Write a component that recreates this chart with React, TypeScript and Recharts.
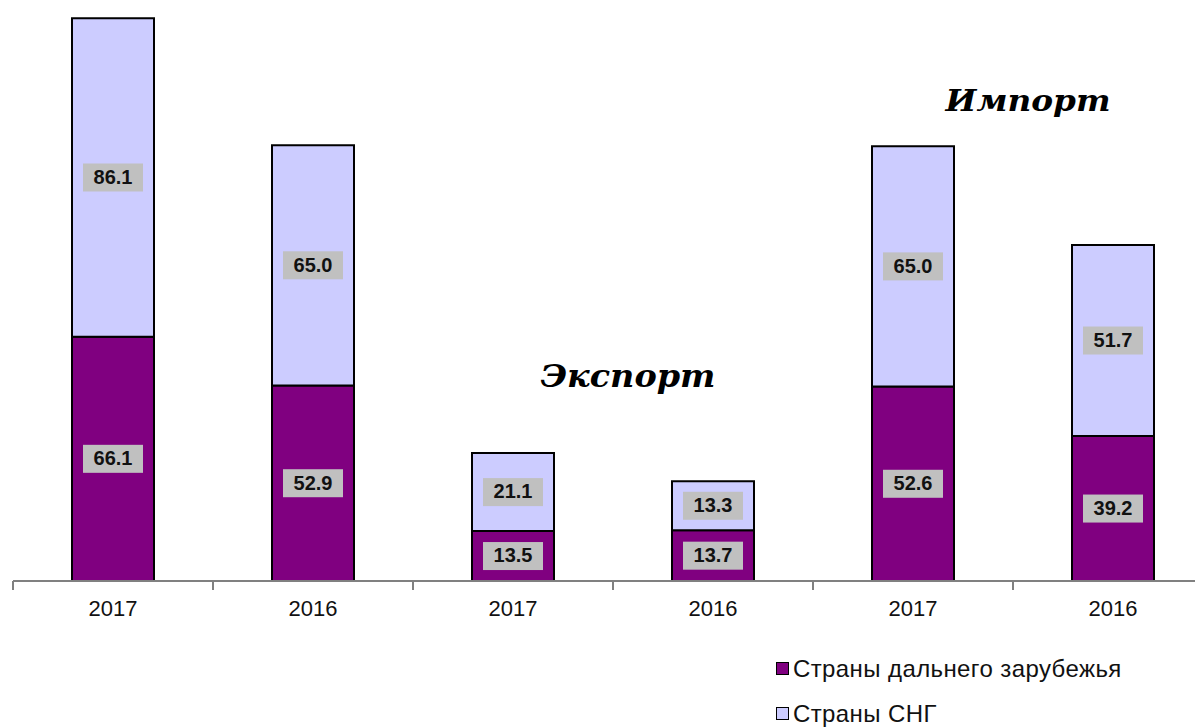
import { BarChart, Bar, XAxis, YAxis, LabelList, Legend, Customized } from 'recharts';

const years = ['2017', '2016', '2017', '2016', '2017', '2016'];
const farAbroad = [66.1, 52.9, 13.5, 13.7, 52.6, 39.2];
const cis = [86.1, 65.0, 21.1, 13.3, 65.0, 51.7];
const seriesNames = ['Страны дальнего зарубежья', 'Страны СНГ'];
const groupTitles = ['Экспорт', 'Импорт'];

const data = years.map((year, i) => ({
  id: i,
  year,
  far: farAbroad[i],
  cis: cis[i],
}));

const FONT = '"Liberation Sans", Arial, sans-serif';

const ValueBox = (props: any) => {
  const { x, y, width, height, value } = props;
  const cx = x + width / 2;
  const cy = y + height / 2;
  return (
    <g>
      <rect x={cx - 30} y={cy - 14} width={60} height={28} fill="#C0C0C0" />
      <text
        x={cx}
        y={cy + 1}
        textAnchor="middle"
        dominantBaseline="middle"
        fontFamily={FONT}
        fontWeight="bold"
        fontSize={20}
        fill="#111"
      >
        {Number(value).toFixed(1)}
      </text>
    </g>
  );
};

const YearTick = (props: any) => {
  const { x, y, payload } = props;
  return (
    <g>
      <line x1={x - 100} x2={x - 100} y1={y} y2={y + 9} stroke="#808080" strokeWidth={2} />
      <text x={x} y={y + 35} textAnchor="middle" fontFamily={FONT} fontSize={22} fill="#111">
        {years[payload.value]}
      </text>
    </g>
  );
};

const Titles = () => (
  <g>
    <text
      x={620}
      y={379}
      textAnchor="middle"
      fontFamily='"DejaVu Serif", serif'
      fontStyle="italic"
      fontWeight="bold"
      fontSize={32}
      textLength={175}
      lengthAdjust="spacingAndGlyphs"
      fill="#000"
    >
      {groupTitles[0]}
    </text>
    <text
      x={1020}
      y={103}
      textAnchor="middle"
      fontFamily='"DejaVu Serif", serif'
      fontStyle="italic"
      fontWeight="bold"
      fontSize={30}
      textLength={165}
      lengthAdjust="spacingAndGlyphs"
      fill="#000"
    >
      {groupTitles[1]}
    </text>
  </g>
);

const LegendBox = () => (
  <div style={{ fontFamily: FONT, fontSize: 24, letterSpacing: 0.4, color: '#111', whiteSpace: 'nowrap' }}>
    {[
      { name: seriesNames[0], color: '#800080' },
      { name: seriesNames[1], color: '#CCCCFF' },
    ].map((item, i) => (
      <div key={i} style={{ display: 'flex', alignItems: 'center', height: 45 }}>
        <span
          style={{
            display: 'inline-block',
            width: 11,
            height: 11,
            background: item.color,
            border: '1.5px solid #000',
            marginRight: 4,
          }}
        />
        {item.name}
      </div>
    ))}
  </div>
);

export default function App() {
  return (
    <div style={{ width: 1195, height: 719, overflow: 'hidden', position: 'relative', background: '#fff' }}>
      <BarChart
        width={1210}
        height={719}
        data={data}
        margin={{ top: 0, right: 5, left: 5, bottom: 106 }}
        barCategoryGap="29.5%"
      >
        <XAxis
          dataKey="id"
          height={40}
          axisLine={{ stroke: '#808080', strokeWidth: 2 }}
          tickLine={false}
          tickSize={0}
          tickMargin={0}
          tick={<YearTick />}
          interval={0}
        />
        <YAxis hide domain={[0, 155]} />
        <Bar dataKey="far" stackId="a" fill="#800080" stroke="#000" strokeWidth={2} isAnimationActive={false}>
          <LabelList dataKey="far" content={<ValueBox />} />
        </Bar>
        <Bar dataKey="cis" stackId="a" fill="#CCCCFF" stroke="#000" strokeWidth={2} isAnimationActive={false}>
          <LabelList dataKey="cis" content={<ValueBox />} />
        </Bar>
        <Customized component={<Titles />} />
        <Legend
          layout="vertical"
          align="center"
          verticalAlign="middle"
          content={<LegendBox />}
          wrapperStyle={{ position: 'absolute', left: 768, top: 638, width: 420 }}
        />
      </BarChart>
    </div>
  );
}
